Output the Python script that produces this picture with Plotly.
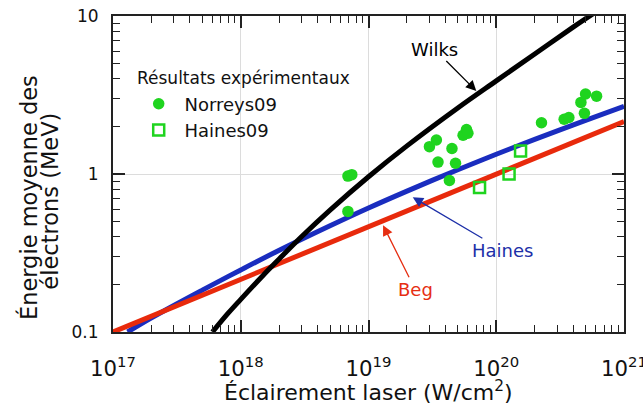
import plotly.graph_objects as go
import math

# ---- data ----
wilks_I = [6.0e17, 8e17, 1e18, 1.5e18, 2e18, 3e18, 5e18, 1e19, 2e19, 5e19, 1e20, 2e20, 4e20, 6e20]
wilks_E = [0.100, 0.132, 0.161, 0.229, 0.290, 0.402, 0.591, 0.961, 1.507, 2.618, 3.885, 5.75, 8.5, 10.6]

haines_I = [1.3e17, 2e17, 5e17, 1e18, 2e18, 5e18, 1e19, 2e19, 5e19, 1e20, 2e20, 5e20, 1e21]
haines_E = [0.100, 0.123, 0.184, 0.247, 0.329, 0.470, 0.609, 0.779, 1.064, 1.333, 1.657, 2.187, 2.681]

beg_I = [1e17, 1e18, 1e19, 1e20, 1e21]
beg_E = [0.100, 0.215, 0.463, 0.998, 2.15]

norreys_I = [6.9e18, 7.4e18, 6.9e18, 3.0e19, 3.4e19, 4.5e19, 3.5e19, 4.8e19, 4.3e19, 5.5e19,
             5.85e19, 6.0e19, 2.26e20, 3.4e20, 3.7e20, 4.9e20, 4.6e20, 5.0e20, 6.1e20]
norreys_E = [0.97, 0.99, 0.58, 1.49, 1.64, 1.45, 1.19, 1.17, 0.91, 1.76,
             1.91, 1.81, 2.11, 2.22, 2.28, 2.42, 2.84, 3.21, 3.11]

haines09_I = [7.4e19, 1.26e20, 1.55e20]
haines09_E = [0.82, 1.00, 1.40]

x_range = [17, 21]   # log10
y_range = [-1, 1]    # log10

FONT = "DejaVu Sans"
BLACK = "#000000"
BLUE = "#1a2dbf"
RED = "#e82a0c"
GREEN = "#1fd41f"
AXC = "#222222"
TXT = "#111111"
NB = "\u00a0"

fig = go.Figure()
fig.add_trace(go.Scatter(x=haines_I, y=haines_E, mode="lines", line=dict(color=BLUE, width=5, shape="spline"),
                         showlegend=False, name="Haines"))
fig.add_trace(go.Scatter(x=beg_I, y=beg_E, mode="lines", line=dict(color=RED, width=5),
                         showlegend=False, name="Beg"))
fig.add_trace(go.Scatter(x=wilks_I, y=wilks_E, mode="lines", line=dict(color=BLACK, width=5, shape="spline"),
                         showlegend=False, name="Wilks"))
fig.add_trace(go.Scatter(x=norreys_I, y=norreys_E, mode="markers", name=NB + "Norreys09",
                         marker=dict(symbol="circle", size=11.5, color=GREEN, line=dict(width=0))))
fig.add_trace(go.Scatter(x=haines09_I, y=haines09_E, mode="markers", name=NB + "Haines09",
                         marker=dict(symbol="square-open", size=11, color=GREEN, line=dict(width=2.5, color=GREEN))))

axis_common = dict(
    type="log", dtick=1, showgrid=True, gridcolor="#dcdcdc", gridwidth=1,
    ticks="inside", ticklen=12, tickwidth=1.5, tickcolor=AXC,
    showline=True, linewidth=2, linecolor=AXC, mirror="allticks",
    minor=dict(ticks="inside", ticklen=7, tickwidth=1.3, tickcolor=AXC, dtick="D1", showgrid=False),
    tickfont=dict(family=FONT, size=17, color=TXT),
    zeroline=False, automargin=False, ticklabeloverflow="allow",
)

fig.update_xaxes(range=x_range, exponentformat="power", **axis_common, ticklabelstandoff=17)
fig.update_yaxes(range=y_range, **axis_common, ticklabelstandoff=9)

annotations = [
    dict(x=math.log10(6.98e19), y=math.log10(3.35), xref="x", yref="y", text="Wilks",
         showarrow=True, ax=-42, ay=-42, arrowhead=2, arrowsize=1.6, arrowwidth=1.3, arrowcolor=BLACK,
         font=dict(family=FONT, size=18, color=BLACK)),
    dict(x=math.log10(2.22e19), y=math.log10(0.713), xref="x", yref="y", text="Haines",
         showarrow=True, ax=90, ay=53, arrowhead=2, arrowsize=1.6, arrowwidth=1.3, arrowcolor="#1c2fa8",
         font=dict(family=FONT, size=18, color="#1c2fa8")),
    dict(x=math.log10(1.30e19), y=math.log10(0.474), xref="x", yref="y", text="Beg",
         showarrow=True, ax=32, ay=64, arrowhead=2, arrowsize=1.6, arrowwidth=1.3, arrowcolor="#e62e12",
         font=dict(family=FONT, size=18, color="#e62e12")),
    dict(x=-0.165, y=0.426, xref="paper", yref="paper", text="Énergie moyenne des",
         textangle=-90, showarrow=False, xanchor="center", yanchor="middle",
         font=dict(family=FONT, size=22.5, color=TXT)),
    dict(x=-0.123, y=0.413, xref="paper", yref="paper", text="électrons (MeV)",
         textangle=-90, showarrow=False, xanchor="center", yanchor="middle",
         font=dict(family=FONT, size=22.5, color=TXT)),
    dict(x=0.5, y=-0.186, xref="paper", yref="paper", text="Éclairement laser (W/cm<sup>2</sup>)",
         showarrow=False, xanchor="center", yanchor="middle",
         font=dict(family=FONT, size=22, color=TXT)),
    dict(x=0.043, y=0.805, xref="paper", yref="paper", text="Résultats expérimentaux",
         showarrow=False, xanchor="left", yanchor="middle",
         font=dict(family=FONT, size=17, color=TXT)),
]

fig.update_layout(
    width=643, height=413,
    margin=dict(l=113, r=19, t=16, b=81, autoexpand=False),
    paper_bgcolor="white", plot_bgcolor="white",
    font=dict(family=FONT, size=17, color=TXT),
    showlegend=True,
    legend=dict(x=0.0503, y=0.78, xanchor="left", yanchor="top",
                font=dict(family=FONT, size=18), bgcolor="rgba(0,0,0,0)", borderwidth=0),
    annotations=annotations,
)

fig.write_html("out.html", config={"displayModeBar": False},
               post_script="document.body.style.margin='0';document.body.style.padding='0';")
